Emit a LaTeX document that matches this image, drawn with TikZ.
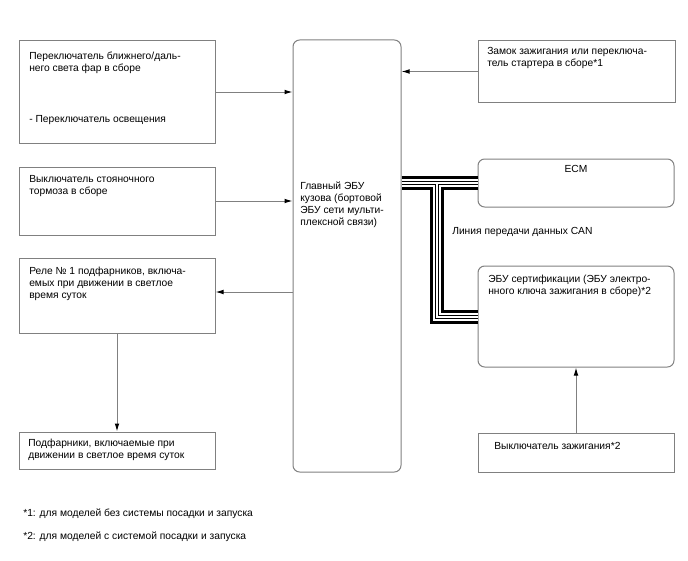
\documentclass[tikz,border=0pt]{standalone}
\usepackage{fontspec}
\setmainfont{Liberation Sans}
\usetikzlibrary{arrows.meta, fit, positioning}
\definecolor{linegray}{RGB}{128,128,128}

\begin{document}
\begin{tikzpicture}[x=0.75pt, y=-0.75pt,
    box/.style={rectangle, draw=linegray, line width=0.75pt, inner sep=0pt},
    rbox/.style={box, rounded corners=5pt},
    txt/.style={anchor=north west, inner sep=0pt, align=left, font=\fontsize{7.7}{8.8}\selectfont},
    arr/.style={draw=linegray, line width=0.75pt, -{Latex[length=6pt, width=3.5pt, black]}}]

\useasboundingbox (0,0) rectangle (688,560);

% left column
\node[box, fit={(19,41) (215,143)}] (beam) {};
\node[box, fit={(19,167) (215,235)}] (brake) {};
\node[box, fit={(19,258) (215,333)}] (relay) {};
\node[box, fit={(19,432) (215,469)}] (drl) {};

% main ECU
\node[rbox, fit={(293,40) (401,472)}] (main) {};

% right column
\node[box, fit={(478,41) (675,102)}] (lock) {};
\node[rbox, fit={(478,159) (674,207)}] (ecm) {};
\node[rbox, fit={(478,266) (674,367)}] (cert) {};
\node[box, fit={(478,433) (674,472)}] (ig) {};

% texts
\node[txt] (beamtxt) at (29,52) {Переключатель ближнего/даль-\\него света фар в сборе};
\node[txt] (lighttxt) at (29,115) {- Переключатель освещения};
\node[txt] (braketxt) at (29,175) {Выключатель стояночного\\тормоза в сборе};
\node[txt] (relaytxt) at (29,267) {Реле № 1 подфарников, включа-\\емых при движении в светлое\\время суток};
\node[txt] (drltxt) at (28,439) {Подфарники, включаемые при\\движении в светлое время суток};
\node[txt] (maintxt) at (300,182) {Главный ЭБУ\\кузова (бортовой\\ЭБУ сети мульти-\\плексной связи)};
\node[txt] (locktxt) at (487,47) {Замок зажигания или переключа-\\тель стартера в сборе*1};
\node[txt, anchor=north] (ecmtxt) at (576,165) {ECM};
\node[txt] (cantxt) at (452,227) {Линия передачи данных CAN};
\node[txt] (certtxt) at (488,275) {ЭБУ сертификации (ЭБУ электро-\\нного ключа зажигания в сборе)*2};
\node[txt] (igtxt) at (494,442) {Выключатель зажигания*2};
\node[txt] (note1) at (23,509) {*1: для моделей без системы посадки и запуска};
\node[txt] (note2) at (23,532) {*2: для моделей с системой посадки и запуска};

% arrows
\draw[arr] (beam.east) -- (beam.east -| main.west);
\draw[arr] (brake.east) -- (brake.east -| main.west);
\draw[arr] (main.west |- 0,292) -- (relay.east |- 0,292);
\draw[arr] (relay.south) -- (drl.north);
\draw[arr] (lock.west) -- (lock.west -| main.east);
\draw[arr] (ig.north) -- (cert.south);

% CAN bus
\coordinate (canjoin) at (437,0 |- ecm.west);
\foreach \w/\c in {10.5pt/black, 6pt/white, 3pt/black, 1.5pt/white}
  \draw[line width=\w, \c] (main.east |- ecm.west) -- (ecm.west)
    (canjoin) -- (canjoin |- cert.west) -- (cert.west);
\end{tikzpicture}
\end{document}
